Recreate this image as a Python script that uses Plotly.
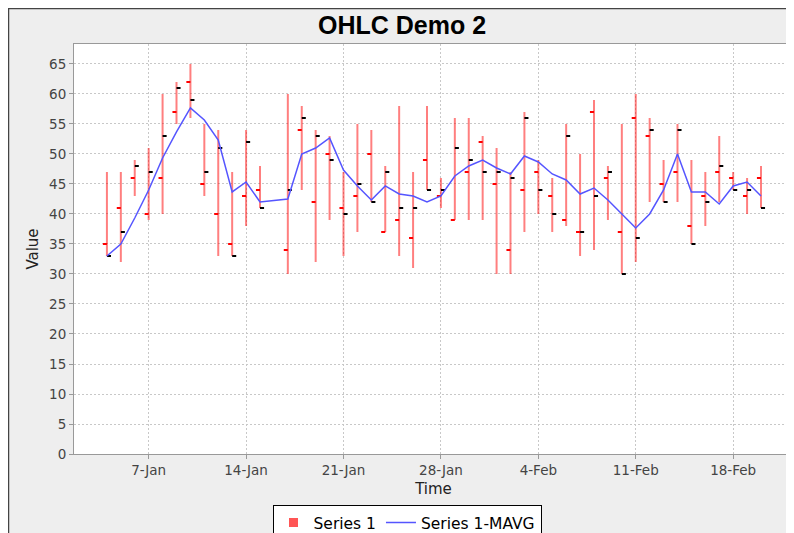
import pandas as pd
import plotly.graph_objects as go

# daily OHLC values, 2001 (no bar on 16-Jan)
dates = (
    [f"2001-01-{d:02d}" for d in range(4, 16)]
    + [f"2001-01-{d:02d}" for d in range(17, 32)]
    + [f"2001-02-{d:02d}" for d in range(1, 21)]
)
high = [47, 47, 49, 51, 60, 62, 65, 55, 54, 47, 54, 48,
        60, 58, 54, 53, 47, 55, 54, 48, 58, 47, 58,
        46, 56, 56, 53, 51, 47, 57, 49, 46, 55, 50, 59, 48,
        55, 60, 56, 49, 55, 49, 47, 53, 47, 46, 48]
low = [33, 32, 43, 39, 40, 55, 56, 43, 33, 33, 38, 41,
       30, 44, 32, 39, 33, 37, 42, 37, 33, 31, 44,
       41, 39, 39, 39, 30, 30, 37, 40, 37, 38, 33, 34, 39,
       30, 32, 42, 42, 42, 35, 38, 42, 44, 40, 41]
open_ = [35, 41, 46, 40, 46, 57, 62, 45, 40, 35, 43, 44,
         34, 54, 42, 50, 41, 43, 50, 37, 39, 36, 49,
         43, 39, 47, 52, 45, 34, 44, 47, 43, 39, 37, 57, 46,
         37, 56, 53, 45, 47, 38, 43, 47, 46, 43, 46]
close = [33, 37, 48, 47, 53, 61, 59, 47, 51, 33, 52, 41,
         44, 56, 53, 49, 40, 45, 42, 47, 41, 41, 44,
         44, 51, 49, 47, 47, 46, 56, 44, 40, 53, 37, 43, 47,
         30, 36, 54, 42, 54, 35, 42, 48, 44, 44, 41]
# 3-day moving average as drawn
mavg = [33, 35, 39.33, 44, 49.33, 53.67, 57.67, 55.67, 52.33, 43.67, 45.33, 42,
        42.5, 50, 51, 52.67, 47.33, 44.67, 42.33, 44.67, 43.33, 43, 42,
        43, 46.33, 48, 49, 47.67, 46.67, 49.67, 48.67, 46.67, 45.67, 43.33, 44.33, 42.33,
        40, 37.67, 40, 44, 50, 43.67, 43.67, 41.67, 44.67, 45.33, 43]

ts = pd.to_datetime(dates)
tick = pd.Timedelta(hours=7)

hl_x, hl_y, op_x, op_y, cl_x, cl_y = [], [], [], [], [], []
for t, h, l, o, c in zip(ts, high, low, open_, close):
    hl_x += [t, t, None]
    hl_y += [l, h, None]
    op_x += [t - tick, t, None]
    op_y += [o, o, None]
    cl_x += [t, t + tick, None]
    cl_y += [c, c, None]

fig = go.Figure()
fig.add_trace(go.Scatter(x=[None], y=[None], mode='markers', name='Series 1',
                         marker=dict(symbol='square', size=9, color='#FF5555')))
fig.add_trace(go.Scatter(x=hl_x, y=hl_y, mode='lines', showlegend=False,
                         line=dict(color='rgba(255,0,0,0.5)', width=2)))
fig.add_trace(go.Scatter(x=op_x, y=op_y, mode='lines', showlegend=False,
                         line=dict(color='#FF0000', width=2)))
fig.add_trace(go.Scatter(x=cl_x, y=cl_y, mode='lines', showlegend=False,
                         line=dict(color='#000000', width=2)))
fig.add_trace(go.Scatter(x=ts, y=mavg, mode='lines', name='Series 1-MAVG',
                         line=dict(color='#5555FF', width=1.5)))

# page body has an 8px margin, so figure coords = window coords - 8
L, T, W, H = 66, 36, 719, 410
FW, FH = 794, 533


def px_x(p):
    return (p - L) / W


def px_y(p):
    return (T + H - p) / H


# dark frame of the chart panel
fig.add_shape(type='rect', xref='paper', yref='paper', layer='below',
              x0=px_x(0.5), x1=px_x(1000), y0=px_y(0.5), y1=px_y(800),
              fillcolor='rgba(0,0,0,0)', line=dict(color='#444444', width=1.5))

tick_font = dict(family='DejaVu Sans', size=13.5, color='#444444')
fig.update_xaxes(type='date', range=['2001-01-01 15:14', '2001-02-22 07:12'],
                 tick0='2001-01-07', dtick=7 * 86400000, tickformat='%-d-%b',
                 ticks='outside', ticklen=4, tickcolor='#999999', tickfont=tick_font,
                 showgrid=True, gridcolor='#C8C8C8', griddash='2px,2px', gridwidth=1,
                 showline=True, mirror=True, linecolor='#999999', linewidth=1,
                 zeroline=False,
                 title=dict(text='Time', standoff=6,
                            font=dict(family='DejaVu Sans', size=15, color='#222222')))
fig.update_yaxes(range=[0, 68.33], tick0=0, dtick=5,
                 ticks='outside', ticklen=4, tickcolor='#999999', tickfont=tick_font,
                 showgrid=True, gridcolor='#C8C8C8', griddash='2px,2px', gridwidth=1,
                 showline=True, mirror=True, linecolor='#999999', linewidth=1,
                 zeroline=False,
                 title=dict(text='Value', standoff=6,
                            font=dict(family='DejaVu Sans', size=15, color='#222222')))

fig.update_layout(
    width=FW, height=FH,
    margin=dict(l=L, r=FW - L - W, t=T, b=FH - T - H, autoexpand=False),
    paper_bgcolor='#EEEEEE', plot_bgcolor='white',
    title=dict(text='<b>OHLC Demo 2</b>', xref='container', yref='container',
               x=394 / FW, xanchor='center', y=1 - 17 / FH, yanchor='middle',
               font=dict(family='Liberation Sans', size=25, color='#000000')),
    legend=dict(orientation='h', x=px_x(399), xanchor='center',
                y=px_y(497), yanchor='top', bgcolor='white',
                bordercolor='#000000', borderwidth=1, itemwidth=30,
                font=dict(family='DejaVu Sans', size=15.5, color='#000000')),
    showlegend=True,
    hovermode='x unified',
)

fig.write_html("out.html")
